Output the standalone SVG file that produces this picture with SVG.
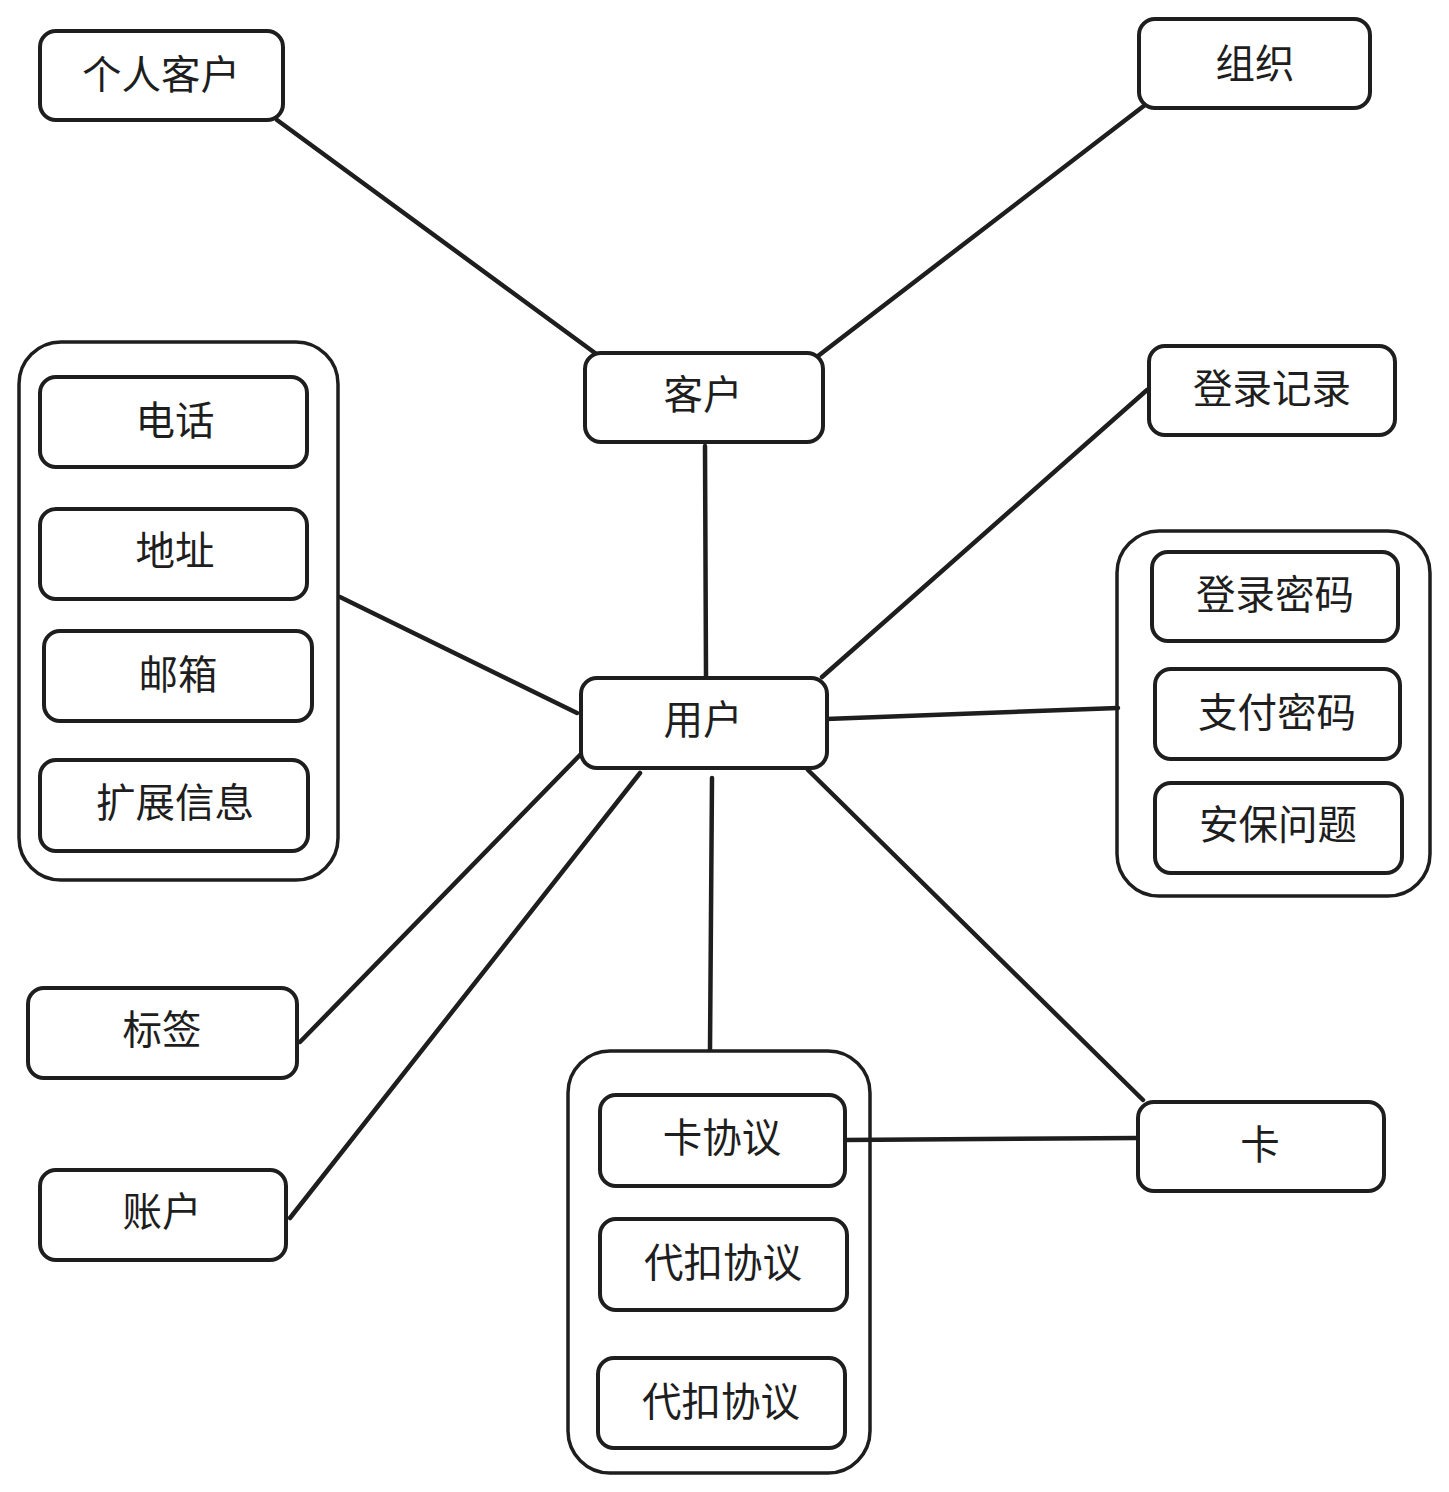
<svg xmlns="http://www.w3.org/2000/svg" width="1449" height="1492" viewBox="0 0 1449 1492">
<style>
.box{fill:#fff;stroke:#1e1e1e;stroke-width:4}
.grp{fill:none;stroke:#1e1e1e;stroke-width:3.5}
.lbl{font-family:"Noto Sans CJK SC","Noto Sans",sans-serif;font-size:39.5px;fill:#1e1e1e;text-anchor:middle;dominant-baseline:central}
.edge{stroke:#1e1e1e;stroke-width:4.5;stroke-linecap:round;fill:none}
</style>
<rect width="1449" height="1492" fill="#fff"/>
<g id="connectors">
<line class="edge" x1="277" y1="120" x2="595" y2="353"/>
<line class="edge" x1="1145" y1="105" x2="818" y2="356"/>
<line class="edge" x1="705" y1="446" x2="706" y2="676"/>
<line class="edge" x1="1147" y1="390" x2="822" y2="677"/>
<line class="edge" x1="340" y1="597" x2="577" y2="713"/>
<line class="edge" x1="1118" y1="708" x2="826" y2="719"/>
<line class="edge" x1="580" y1="755" x2="300" y2="1042"/>
<line class="edge" x1="640" y1="773" x2="290" y2="1218"/>
<line class="edge" x1="712" y1="778" x2="710" y2="1050"/>
<line class="edge" x1="808" y1="770" x2="1143" y2="1100"/>
<line class="edge" x1="843" y1="1140" x2="1138" y2="1138"/>
</g>
<g id="group-contact">
<rect class="grp" x="19" y="342" width="319" height="538" rx="42"/>
</g>
<g id="group-security">
<rect class="grp" x="1117" y="531" width="313" height="365" rx="42"/>
</g>
<g id="group-agreement">
<rect class="grp" x="568" y="1051" width="302" height="422" rx="42"/>
</g>
<g id="n-personal"><rect class="box" x="40" y="31" width="243" height="89" rx="16"/><text class="lbl" x="161" y="71">个人客户</text></g>
<g id="n-org"><rect class="box" x="1139" y="19" width="231" height="89" rx="16"/><text class="lbl" x="1255" y="60">组织</text></g>
<g id="n-customer"><rect class="box" x="585" y="353" width="238" height="89" rx="16"/><text class="lbl" x="703" y="391">客户</text></g>
<g id="n-loginlog"><rect class="box" x="1149" y="346" width="246" height="89" rx="16"/><text class="lbl" x="1272" y="385">登录记录</text></g>
<g id="n-phone"><rect class="box" x="40" y="377" width="267" height="90" rx="16"/><text class="lbl" x="175" y="417">电话</text></g>
<g id="n-address"><rect class="box" x="40" y="509" width="267" height="90" rx="16"/><text class="lbl" x="175" y="547">地址</text></g>
<g id="n-email"><rect class="box" x="44" y="631" width="268" height="90" rx="16"/><text class="lbl" x="178" y="671">邮箱</text></g>
<g id="n-ext"><rect class="box" x="40" y="760" width="268" height="91" rx="16"/><text class="lbl" x="175" y="799">扩展信息</text></g>
<g id="n-loginpwd"><rect class="box" x="1152" y="552" width="246" height="89" rx="16"/><text class="lbl" x="1275" y="591">登录密码</text></g>
<g id="n-paypwd"><rect class="box" x="1155" y="669" width="245" height="90" rx="16"/><text class="lbl" x="1277" y="709">支付密码</text></g>
<g id="n-secq"><rect class="box" x="1155" y="783" width="247" height="90" rx="16"/><text class="lbl" x="1278" y="821">安保问题</text></g>
<g id="n-user"><rect class="box" x="581" y="678" width="246" height="90" rx="16"/><text class="lbl" x="703" y="716">用户</text></g>
<g id="n-tag"><rect class="box" x="28" y="988" width="269" height="90" rx="16"/><text class="lbl" x="162" y="1026">标签</text></g>
<g id="n-account"><rect class="box" x="40" y="1170" width="246" height="90" rx="16"/><text class="lbl" x="162" y="1208">账户</text></g>
<g id="n-card"><rect class="box" x="1138" y="1102" width="246" height="89" rx="16"/><text class="lbl" x="1260" y="1141">卡</text></g>
<g id="n-cardagr"><rect class="box" x="600" y="1095" width="245" height="91" rx="16"/><text class="lbl" x="722" y="1134">卡协议</text></g>
<g id="n-deduct1"><rect class="box" x="600" y="1219" width="247" height="91" rx="16"/><text class="lbl" x="723" y="1259">代扣协议</text></g>
<g id="n-deduct2"><rect class="box" x="598" y="1358" width="247" height="90" rx="16"/><text class="lbl" x="721" y="1398">代扣协议</text></g>
</svg>
